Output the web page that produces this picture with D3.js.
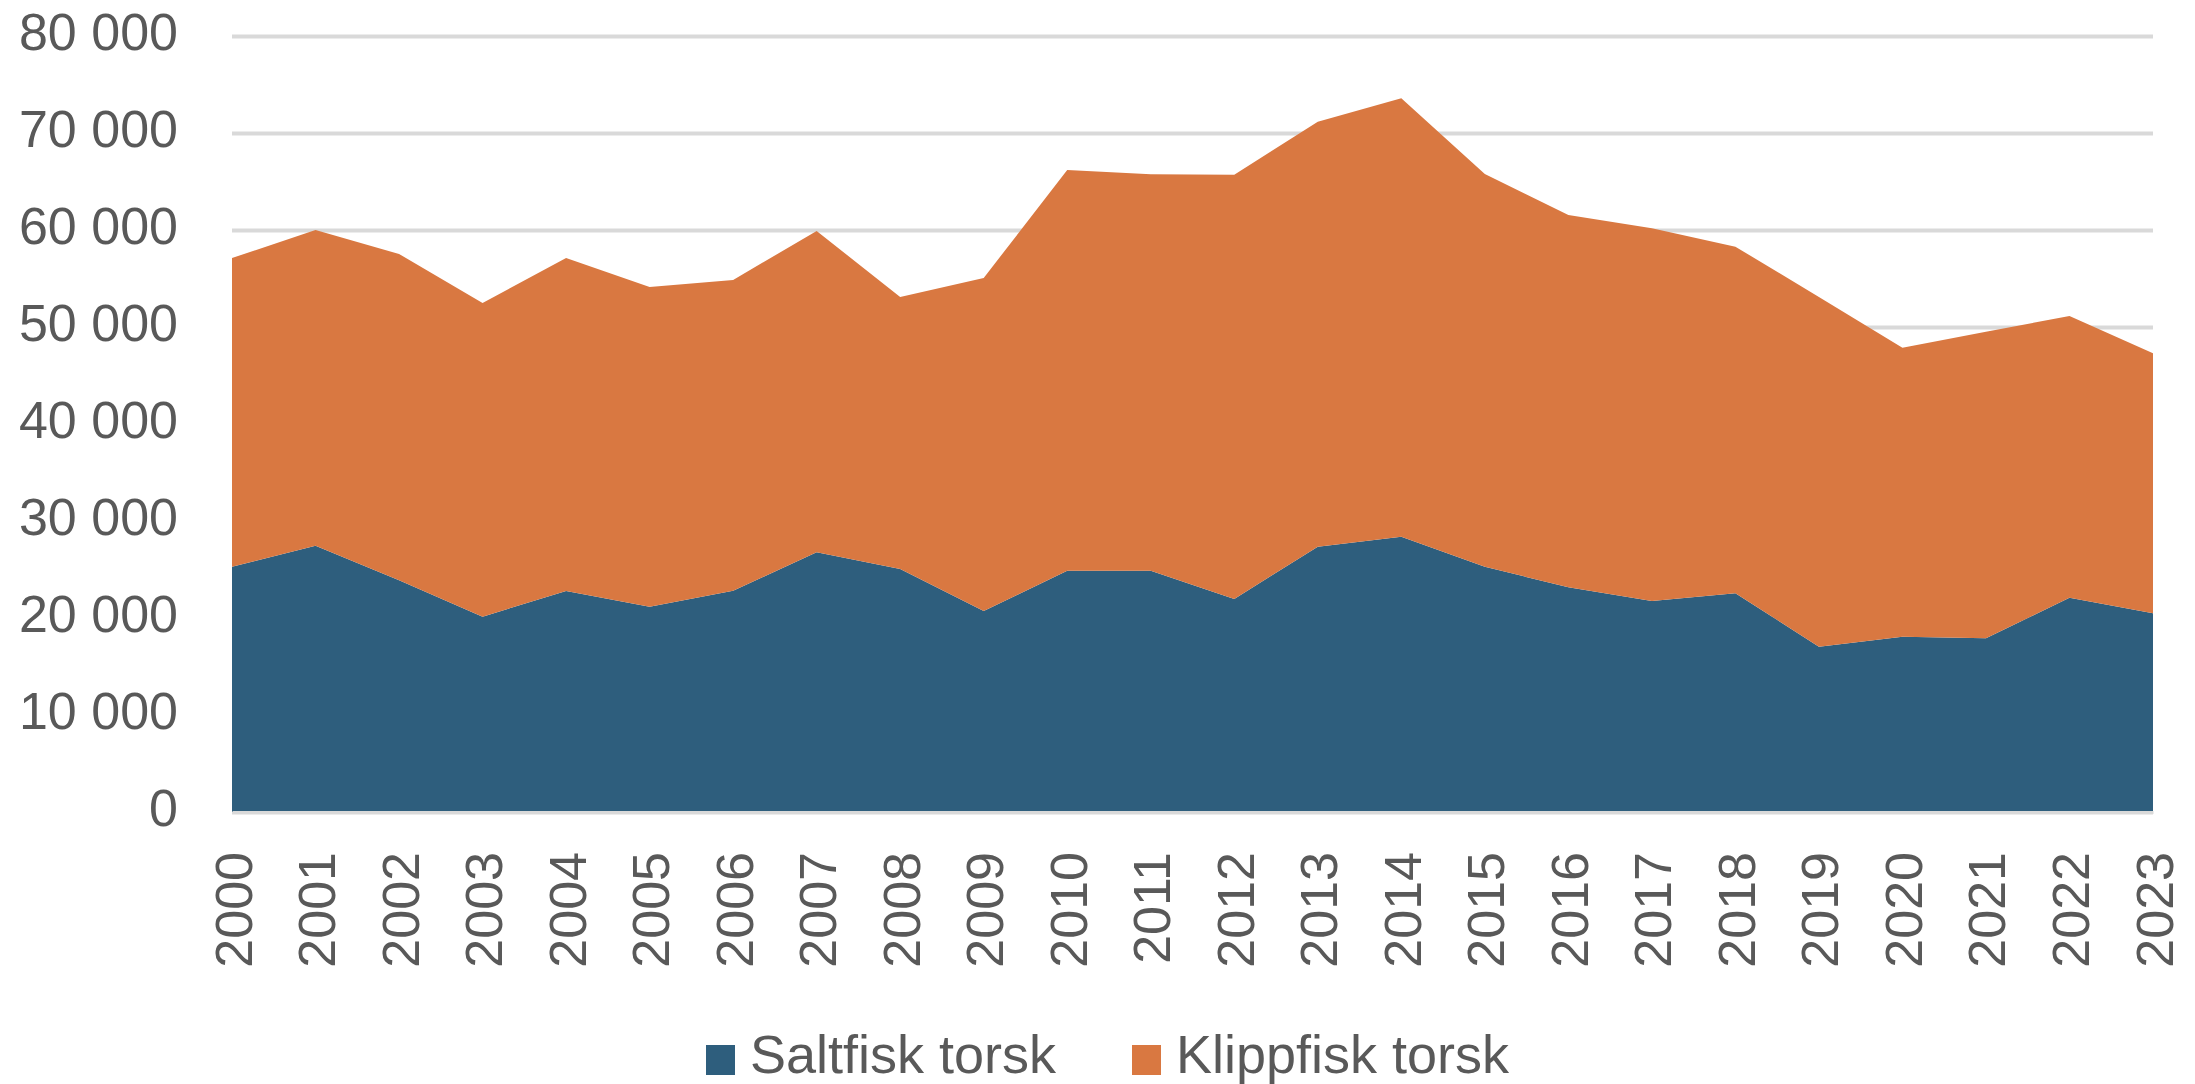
<!DOCTYPE html>
<html>
<head>
<meta charset="utf-8">
<script src="https://cdn.jsdelivr.net/npm/d3@7"></script>
<style>
  html, body { margin: 0; padding: 0; background: #fff; }
  svg text { font-family: "Liberation Sans", Arial, sans-serif; fill: #595959; }
</style>
</head>
<body>
<div id="chart"></div>
<script>
// data (tonn)
var years = ["2000", "2001", "2002", "2003", "2004", "2005", "2006", "2007", "2008", "2009", "2010", "2011",
             "2012", "2013", "2014", "2015", "2016", "2017", "2018", "2019", "2020", "2021", "2022", "2023"];
var saltfisk = [25290, 27450, 23900, 20140, 22780, 21170, 22820, 26770, 25050, 20720, 24880, 24880,
                21960, 27350, 28380, 25290, 23160, 21750, 22540, 17040, 18070, 17900, 22090, 20480];
var klippfisk = [31820, 32550, 33630, 32330, 34330, 32950, 32030, 33130, 28040, 34330, 41310, 40860,
                 43740, 43820, 45190, 40480, 38390, 38420, 35740, 36060, 29800, 31620, 29040, 26810];
var seriesNames = ["Saltfisk torsk", "Klippfisk torsk"];
var seriesKeys = ["saltfisk", "klippfisk"];
var colors = ["#2E5E7D", "#D97841"];
var yTicks = [0, 10000, 20000, 30000, 40000, 50000, 60000, 70000, 80000];

var width = 2195, height = 1084;
var margin = {top: 36, right: 42, bottom: 272, left: 232};
var plotW = width - margin.left - margin.right;
var plotH = height - margin.top - margin.bottom;

var rows = years.map(function (y, i) {
    return {year: y, saltfisk: saltfisk[i], klippfisk: klippfisk[i]};
});
var stacked = d3.stack().keys(seriesKeys)(rows);

var svg = d3.select("#chart").append("svg")
    .attr("width", width)
    .attr("height", height);

var g = svg.append("g")
    .attr("transform", "translate(" + margin.left + "," + margin.top + ")");

var x = d3.scalePoint().domain(years).range([0, plotW]);
var y = d3.scaleLinear().domain([0, 80000]).range([plotH, 0]);

var fmt = function (d) { return d3.format(",")(d).replace(/,/g, "\u00a0"); };

// y axis with gridlines
var yAxis = g.append("g")
    .call(d3.axisLeft(y).tickValues(yTicks).tickSize(-plotW).tickPadding(54).tickFormat(fmt));
yAxis.select(".domain").remove();
yAxis.selectAll(".tick line")
    .attr("stroke", "#D9D9D9")
    .attr("stroke-width", 4);
yAxis.selectAll(".tick text")
    .attr("font-size", 52)
    .attr("dy", "0.25em")
    .style("fill", "#595959");

// stacked areas
var area = d3.area()
    .x(function (d) { return x(d.data.year); })
    .y0(function (d) { return y(d[0]); })
    .y1(function (d) { return y(d[1]); });

g.append("g").selectAll("path")
    .data(stacked)
    .enter().append("path")
    .attr("d", area)
    .attr("fill", function (d, i) { return colors[i]; });

// x axis, rotated year labels
var xAxis = g.append("g")
    .attr("transform", "translate(0," + plotH + ")")
    .call(d3.axisBottom(x).tickSize(0).tickPadding(0));
xAxis.select(".domain")
    .attr("stroke", "#D9D9D9")
    .attr("stroke-width", 3);
xAxis.selectAll(".tick text")
    .attr("font-size", 52)
    .attr("text-anchor", "end")
    .attr("y", 0)
    .attr("dy", 0)
    .attr("transform", "translate(19,40) rotate(-90)")
    .style("fill", "#595959");

// legend
var legendX = [706, 1132];
var legend = svg.append("g");
seriesNames.forEach(function (name, i) {
    legend.append("rect")
        .attr("x", legendX[i])
        .attr("y", 1045)
        .attr("width", 29)
        .attr("height", 30)
        .attr("fill", colors[i]);
    legend.append("text")
        .attr("x", legendX[i] + 44)
        .attr("y", 1073)
        .attr("font-size", 54)
        .text(name);
});
</script>
</body>
</html>
